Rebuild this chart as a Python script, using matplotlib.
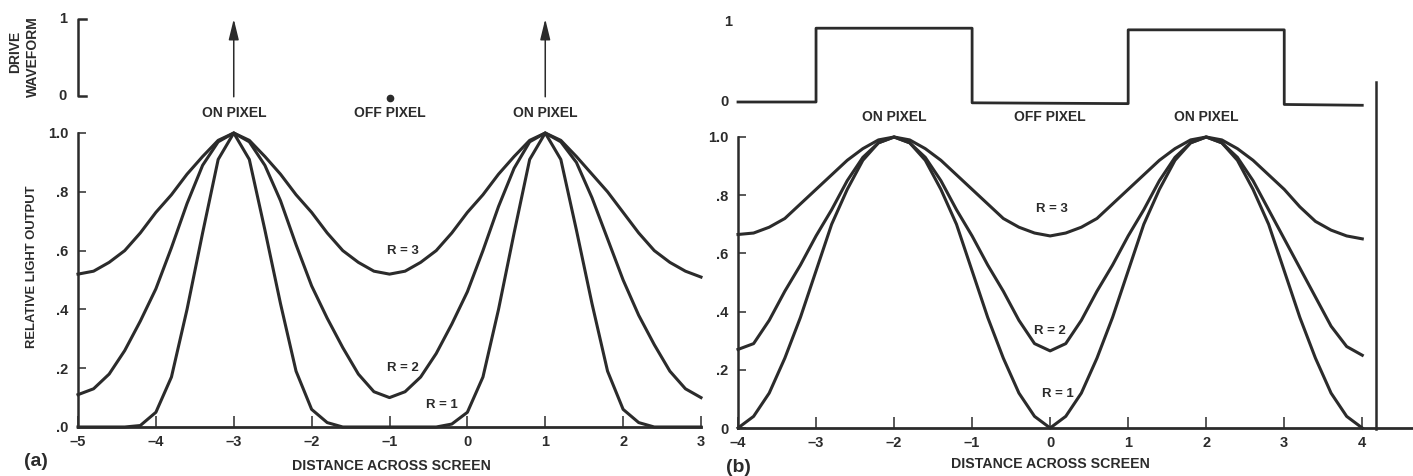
import numpy as np
import matplotlib
matplotlib.use("Agg")
import matplotlib.pyplot as plt

plt.rcParams['font.family'] = ['Liberation Sans', 'DejaVu Sans']

W, H = 1413, 476
C = '#2b2b2b'

# ---- panel (a) data: drive impulses, light output for R = 1, 2, 3 ----
x_a = np.linspace(-5, 3, 41)
r3_a = [0.52, 0.53, 0.56, 0.60, 0.66, 0.73, 0.79, 0.86, 0.92, 0.975, 1.00,
        0.975, 0.92, 0.86, 0.79, 0.73, 0.66, 0.60, 0.56, 0.53, 0.52,
        0.53, 0.56, 0.60, 0.66, 0.73, 0.79, 0.86, 0.92, 0.975, 1.00,
        0.975, 0.92, 0.86, 0.80, 0.73, 0.66, 0.60, 0.56, 0.53, 0.51]
r2_a = [0.11, 0.13, 0.18, 0.26, 0.36, 0.47, 0.61, 0.76, 0.89, 0.97, 1.00,
        0.97, 0.89, 0.77, 0.62, 0.48, 0.37, 0.27, 0.18, 0.12, 0.10,
        0.12, 0.17, 0.25, 0.35, 0.46, 0.60, 0.75, 0.88, 0.97, 1.00,
        0.97, 0.90, 0.78, 0.64, 0.50, 0.38, 0.28, 0.19, 0.13, 0.10]
r1_a = [0, 0, 0, 0, 0.005, 0.05, 0.17, 0.40, 0.66, 0.91, 1.00,
        0.91, 0.67, 0.42, 0.19, 0.06, 0.015, 0, 0, 0, 0,
        0, 0, 0, 0.01, 0.05, 0.17, 0.40, 0.66, 0.91, 1.00,
        0.91, 0.67, 0.42, 0.19, 0.06, 0.015, 0, 0, 0, 0]
on_a = [-3, 1]
off_a = [-1]

# ---- panel (b) data: square drive, light output for R = 1, 2, 3 ----
x_b = np.linspace(-4, 4, 41)
r3_b = [0.665, 0.67, 0.69, 0.72, 0.77, 0.82, 0.87, 0.92, 0.96, 0.99, 1.00,
        0.99, 0.96, 0.92, 0.87, 0.82, 0.77, 0.72, 0.69, 0.67, 0.66,
        0.67, 0.69, 0.72, 0.77, 0.82, 0.87, 0.92, 0.96, 0.99, 1.00,
        0.99, 0.96, 0.92, 0.87, 0.82, 0.76, 0.71, 0.68, 0.66, 0.65]
r2_b = [0.27, 0.29, 0.37, 0.47, 0.56, 0.66, 0.75, 0.85, 0.93, 0.98, 1.00,
        0.98, 0.93, 0.85, 0.75, 0.66, 0.56, 0.47, 0.37, 0.29, 0.265,
        0.29, 0.37, 0.47, 0.56, 0.66, 0.75, 0.85, 0.93, 0.98, 1.00,
        0.98, 0.93, 0.85, 0.75, 0.65, 0.55, 0.45, 0.35, 0.28, 0.25]
r1_b = [0.00, 0.04, 0.12, 0.24, 0.38, 0.54, 0.70, 0.82, 0.92, 0.98, 1.00,
        0.98, 0.92, 0.82, 0.70, 0.54, 0.38, 0.24, 0.12, 0.04, 0.00,
        0.04, 0.12, 0.24, 0.38, 0.54, 0.70, 0.82, 0.92, 0.98, 1.00,
        0.98, 0.92, 0.82, 0.70, 0.54, 0.38, 0.24, 0.12, 0.04, 0.00]
wave_x = [-4, -3, -3, -1, -1, 1, 1, 3, 3, 4]
wave_y = [0, 0, 0.90, 0.90, -0.01, -0.02, 0.88, 0.88, -0.03, -0.04]

ticks_a = [-5, -4, -3, -2, -1, 0, 1, 2, 3]
ticks_b = [-4, -3, -2, -1, 0, 1, 2, 3, 4]
yticks = [0, 0.2, 0.4, 0.6, 0.8, 1.0]
ylab_a = ['.0', '.2', '.4', '.6', '.8', '1.0']
ylab_b = ['0', '.2', '.4', '.6', '.8', '1.0']

FS = 10.5


def dash(v):
    return str(v).replace('-', '\u2013')


def box(x0, y0, x1, y1):
    return [x0 / W, 1 - y1 / H, (x1 - x0) / W, (y1 - y0) / H]


fig = plt.figure(figsize=(W / 100, H / 100), dpi=100)

ax_a = fig.add_axes(box(78, 133, 701, 427))
ax_b = fig.add_axes(box(738, 137, 1413, 428))
ax_wa = fig.add_axes(box(78, 19, 701, 96))
ax_wb = fig.add_axes(box(738, 20, 1413, 102))

for ax, xt, xl, yl in [(ax_a, ticks_a, (-5, 3), ylab_a),
                       (ax_b, ticks_b, (-4, 4.65), ylab_b)]:
    ax.set_xlim(*xl)
    ax.set_ylim(0, 1)
    for s in ['top', 'right']:
        ax.spines[s].set_visible(False)
    ax.spines['left'].set_linewidth(1.8)
    ax.spines['bottom'].set_linewidth(2.0)
    for s in ['left', 'bottom']:
        ax.spines[s].set_color(C)
    ax.set_xticks(xt)
    ax.set_xticklabels([dash(v) for v in xt], fontweight='bold', fontsize=FS)
    ax.set_yticks(yticks)
    ax.set_yticklabels(yl, fontweight='bold', fontsize=FS)
    ax.tick_params(axis='x', direction='in', length=8, width=1.1, pad=6, colors=C)
    ax.tick_params(axis='y', direction='in', length=6, width=1.1, pad=7, colors=C)
    ax.patch.set_alpha(0)

for ax, xs, curves in [(ax_a, x_a, [r1_a, r2_a, r3_a]),
                       (ax_b, x_b, [r1_b, r2_b, r3_b])]:
    for ys in curves:
        ax.plot(xs, ys, color=C, lw=2.2, clip_on=False, solid_joinstyle='round')

# drive waveform (a): impulses
ax_wa.set_xlim(-5, 3)
ax_wa.set_ylim(0, 1)
ax_wa.axis('off')
ax_wa.plot([-4.9, -5, -5, -4.9], [1, 1, 0, 0], color=C, lw=1.8, clip_on=False)
for x in on_a:
    ax_wa.annotate('', xy=(x, 1.0), xytext=(x, -0.01),
                   arrowprops=dict(arrowstyle='-|>,head_length=0.9,head_width=0.22',
                                   lw=1.1, color=C, mutation_scale=14,
                                   shrinkA=0, shrinkB=0))
for x in off_a:
    ax_wa.plot(x, -0.02, 'o', color=C, ms=4.5, clip_on=False)
ax_wa.text(-5.14, 1, '1', ha='right', va='center', fontsize=FS, fontweight='bold', color=C)
ax_wa.text(-5.14, 0, '0', ha='right', va='center', fontsize=FS, fontweight='bold', color=C)

# drive waveform (b): square wave
ax_wb.set_xlim(-4, 4.65)
ax_wb.set_ylim(0, 1)
ax_wb.axis('off')
ax_wb.plot(wave_x, wave_y, color=C, lw=2.0, clip_on=False)
ax_wb.text(-4.08, 0.98, '1', ha='right', va='center', fontsize=FS, fontweight='bold', color=C)
ax_wb.text(-4.12, 0, '0', ha='right', va='center', fontsize=FS, fontweight='bold', color=C)

# vertical rule at right of (b)
ax_b.plot([4.18, 4.18], [-0.005, 1.19], color=C, lw=1.8, clip_on=False)

# pixel labels
for x in on_a:
    ax_a.text(x, 1.068, 'ON PIXEL', ha='center', va='center', fontsize=10, fontweight='bold', color=C)
ax_a.text(-1, 1.068, 'OFF PIXEL', ha='center', va='center', fontsize=10, fontweight='bold', color=C)
for x in [-2, 2]:
    ax_b.text(x, 1.069, 'ON PIXEL', ha='center', va='center', fontsize=10, fontweight='bold', color=C)
ax_b.text(0, 1.069, 'OFF PIXEL', ha='center', va='center', fontsize=10, fontweight='bold', color=C)

# curve labels
for ax, pos in [(ax_a, [(-0.83, 0.60, 'R = 3'), (-0.83, 0.20, 'R = 2'), (-0.33, 0.076, 'R = 1')]),
                (ax_b, [(0.02, 0.753, 'R = 3'), (0.0, 0.335, 'R = 2'), (0.1, 0.118, 'R = 1')])]:
    for x, y, s in pos:
        ax.text(x, y, s, ha='center', va='center', fontsize=9.5, fontweight='bold', color=C)

# axis titles and panel letters
fig.text(15 / W, 1 - 52 / H, 'DRIVE', rotation=90, ha='center', va='center',
         fontsize=10, fontweight='bold', color=C)
fig.text(33 / W, 1 - 57 / H, 'WAVEFORM', rotation=90, ha='center', va='center',
         fontsize=10, fontweight='bold', color=C)
fig.text(32 / W, 1 - 267 / H, 'RELATIVE LIGHT OUTPUT', rotation=90, ha='center', va='center',
         fontsize=9.4, fontweight='bold', color=C)
fig.text(391 / W, 1 - 466 / H, 'DISTANCE ACROSS SCREEN', ha='center', va='center',
         fontsize=10.2, fontweight='bold', color=C)
fig.text(1050 / W, 1 - 464 / H, 'DISTANCE ACROSS SCREEN', ha='center', va='center',
         fontsize=10.2, fontweight='bold', color=C)
fig.text(36 / W, 1 - 461 / H, '(a)', ha='center', va='center', fontsize=14, fontweight='bold', color=C)
fig.text(738 / W, 1 - 468 / H, '(b)', ha='center', va='center', fontsize=14, fontweight='bold', color=C)

fig.savefig('out.png', dpi=100)
